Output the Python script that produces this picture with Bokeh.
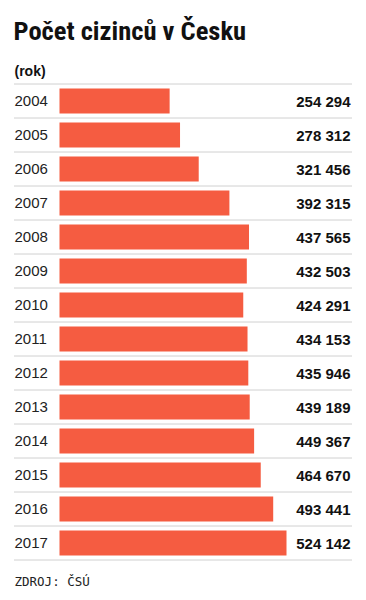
from bokeh.plotting import figure
from bokeh.models import Range1d, Label, ColumnDataSource
from bokeh.core.properties import value
from bokeh.embed import file_html
from bokeh.resources import INLINE

years = ["2004", "2005", "2006", "2007", "2008", "2009", "2010",
         "2011", "2012", "2013", "2014", "2015", "2016", "2017"]
counts = [254294, 278312, 321456, 392315, 437565, 432503, 424291,
          434153, 435946, 439189, 449367, 464670, 493441, 524142]
title_text = "Počet cizinců v Česku"
unit_text = "(rok)"
source_text = "ZDROJ: ČSÚ"

W, H = 358, 592
# horizontal scale: value 0 at 59px
s = 227.0 / 524142.0
XMIN = -59.0 / s
XMAX = XMIN + W / s
def px_x(px):
    return XMIN + px / s

# vertical: row 0 centred at 100.5px, pitch 34px
pitch = 34.0
YTOP = -100.5 / pitch
YBOT = YTOP + H / pitch

p = figure(width=W, height=H, output_backend="svg", toolbar_location=None,
           x_range=Range1d(XMIN, XMAX), y_range=Range1d(YBOT, YTOP),
           min_border=0, outline_line_color=None, background_fill_color="white",
           border_fill_color="white")
p.axis.visible = False
p.grid.visible = False

idx = list(range(len(years)))
labels = [f"{v:,}".replace(",", " ") for v in counts]
src = ColumnDataSource(dict(y=idx, v=counts, year=years, lab=labels,
                            xl=[px_x(14)] * len(idx), xr=[px_x(350)] * len(idx)))

# dotted separators
sep_y = [i - 0.5 for i in range(len(years) + 1)]
p.segment(x0=[px_x(14)] * len(sep_y), x1=[px_x(352)] * len(sep_y), y0=sep_y, y1=sep_y,
          line_color="#a0a0a0", line_width=1, line_dash="1 1")

p.hbar(y="y", left=0, right="v", height=25 / pitch, source=src,
       fill_color="#F55C41", line_color=None)

p.text(x="xl", y="y", text="year", source=src, text_font=value("Liberation Sans"),
       text_font_size="15px", text_color="#222222", text_baseline="middle", text_align="left")
p.text(x="xr", y="y", text="lab", source=src, text_font=value("Liberation Sans"),
       text_font_size="15px", text_font_style="bold", text_color="#111111",
       text_baseline="middle", text_align="right")

p.add_layout(Label(x=13, y=H - 30, x_units="screen", y_units="screen", text=title_text,
                   text_font="'Roboto Condensed', 'DejaVu Sans Condensed', sans-serif",
                   text_font_size="26.5px", text_font_style="bold", text_color="#111111",
                   text_baseline="middle"))
p.add_layout(Label(x=14, y=H - 70, x_units="screen", y_units="screen", text=unit_text,
                   text_font="Liberation Sans", text_font_size="14px", text_font_style="bold",
                   text_color="#111111", text_baseline="middle"))
p.add_layout(Label(x=14, y=H - 581, x_units="screen", y_units="screen", text=source_text,
                   text_font="DejaVu Sans Mono", text_font_size="12.5px",
                   text_color="#222222", text_baseline="middle"))

open("out.html", "w").write(file_html(p, INLINE))
